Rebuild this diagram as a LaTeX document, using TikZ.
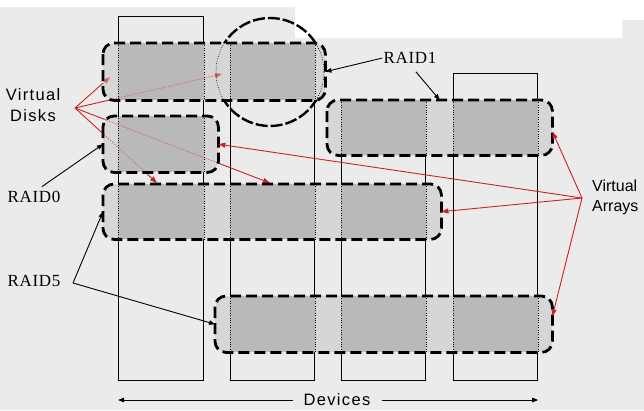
\documentclass[tikz,border=0pt]{standalone}
\usepackage{fontspec}
\setmainfont{Liberation Sans}
\newfontfamily\labelsans{Liberation Sans}[LetterSpace=8]
\newfontfamily\labelserif{Liberation Serif}[LetterSpace=4]
\usetikzlibrary{arrows.meta, calc}
\definecolor{bggray}{HTML}{EBEBEB}
\definecolor{lightfill}{HTML}{D6D6D6}
\definecolor{darkfill}{HTML}{B9B9B9}
\definecolor{linkred}{HTML}{CC2222}

\begin{document}
\begin{tikzpicture}[
    x=1pt, y=-1pt,
    device/.style={draw, line width=1.2pt, inner sep=0pt, anchor=north west},
    array/.style={fill=lightfill, inner sep=0pt, anchor=north west, rounded corners=11pt},
    arrayborder/.style={draw, line width=2.8pt, dash pattern=on 11pt off 5pt, rounded corners=11pt},
    coledge/.style={line width=0.6pt, dash pattern=on 0.8pt off 1.6pt},
    redarrow/.style={linkred, line width=0.9pt, -{Triangle[length=7pt, width=5pt]}},
    hiddenarrow/.style={linkred!70, line width=0.9pt, dash pattern=on 1.2pt off 1.6pt, -{Triangle[length=7pt, width=5pt]}},
    blackarrow/.style={line width=0.9pt, -{Triangle[length=6pt, width=4.5pt]}},
    sanslabel/.style={font=\labelsans\fontsize{16.5}{21}\selectfont, align=center, inner sep=1pt},
    seriflabel/.style={font=\labelserif\fontsize{17}{19}\selectfont, inner sep=1pt}
]
\useasboundingbox (0,0) rectangle (644,410);

% Background
\fill[bggray] (0,0) rectangle (644,410);
\fill[white] (0,0) -- (644,0) -- (644,20) -- (622,20) -- (622,38) -- (295,38) -- (295,7) -- (0,7) -- cycle;

% Devices
\node[device, minimum width=85pt, minimum height=364pt] (d1) at (118,16) {};
\node[device, minimum width=84pt, minimum height=337pt] (d2) at (230,43) {};
\node[device, minimum width=84pt, minimum height=280pt] (d3) at (341,100) {};
\node[device, minimum width=84pt, minimum height=307pt] (d4) at (453,73) {};

% Virtual disk links (visible part)
\coordinate (vdfan) at (75,108);
\coordinate (vd1) at (110,77);
\coordinate (vd2) at (222,74);
\coordinate (vd3) at (270,183);
\coordinate (vd4) at (157,183);
\foreach \t in {1,...,4}
    \draw[redarrow] (vdfan) -- (vd\t);

% Virtual arrays
\node[array, minimum width=222pt, minimum height=57pt] (s1) at (103,43) {};
\node[array, minimum width=225pt, minimum height=55pt] (s2) at (327,100) {};
\node[array, minimum width=115pt, minimum height=56pt] (s3) at (103,116) {};
\node[array, minimum width=338pt, minimum height=55pt] (s4) at (103,184) {};
\node[array, minimum width=337pt, minimum height=56pt] (s5) at (215,296) {};

\foreach \s/\cols in {s1/{d1,d2}, s2/{d3,d4}, s3/{d1}, s4/{d1,d2,d3}, s5/{d2,d3,d4}}
    \foreach \d in \cols {
        \fill[darkfill] (\d.west |- \s.north) rectangle (\d.east |- \s.south);
        \draw[coledge] (\d.west |- \s.north) -- (\d.west |- \s.south);
        \draw[coledge] (\d.east |- \s.north) -- (\d.east |- \s.south);
    }

% Virtual disk links (hidden part)
\begin{scope}
    \clip (s1.north west) rectangle (s1.south east) (s3.north west) rectangle (s3.south east);
    \foreach \t in {1,...,4}
        \draw[hiddenarrow] (vdfan) -- (vd\t);
\end{scope}

\foreach \s in {s1,s2,s3,s4,s5}
    \draw[arrayborder] (\s.north west) rectangle (\s.south east);

% RAID1 mirror circle
\node[circle, minimum size=108pt, inner sep=0pt] (mirror) at (270,72) {};
\begin{scope}
    \clip (0,43) rectangle (644,100);
    \draw[coledge] (mirror.center) circle[radius=54pt];
\end{scope}
\begin{scope}
    \clip (0,0) rectangle (644,43) (0,100) rectangle (644,410);
    \draw[line width=2.4pt, dash pattern=on 12pt off 3pt] (mirror.center) circle[radius=54pt];
\end{scope}

% Labels
\node[sanslabel] (vdisks) at (33,105) {Virtual\\Disks};
\node[sanslabel, font=\fontsize{16}{20}\selectfont, align=left, anchor=west] (varrays) at (591,197) {Virtual\\Arrays};
\node[seriflabel] (raid0) at (34,197) {RAID0};
\node[seriflabel] (raid1) at (410,58) {RAID1};
\node[seriflabel] (raid5) at (34,281) {RAID5};
\node[sanslabel, inner xsep=11pt] (devs) at (337,400) {Devices};

% Black links
\coordinate (r5knee) at (73,283);
\draw[blackarrow, shorten <=6pt] ([xshift=3pt]raid0.north) -- (s3.west);
\draw[blackarrow] (raid1.west) -- (s1.east);
\draw[blackarrow, shorten <=9pt] (raid1.south) -- (s2.north);
\draw[blackarrow] (r5knee) -- (s4.west);
\draw[blackarrow] (r5knee) -- (s5.west);
\draw[blackarrow] (devs.west) -- (d1.west |- devs.west);
\draw[blackarrow] (devs.east) -- (d4.east |- devs.east);

% Red links to virtual arrays
\coordinate (vafan) at (582,198);
\draw[redarrow] (vafan) -- ([yshift=-4pt]s2.east);
\draw[redarrow] (vafan) -- (s3.east);
\draw[redarrow] (vafan) -- (s4.east);
\draw[redarrow] (vafan) -- ([yshift=8pt]s5.east);

\end{tikzpicture}
\end{document}
